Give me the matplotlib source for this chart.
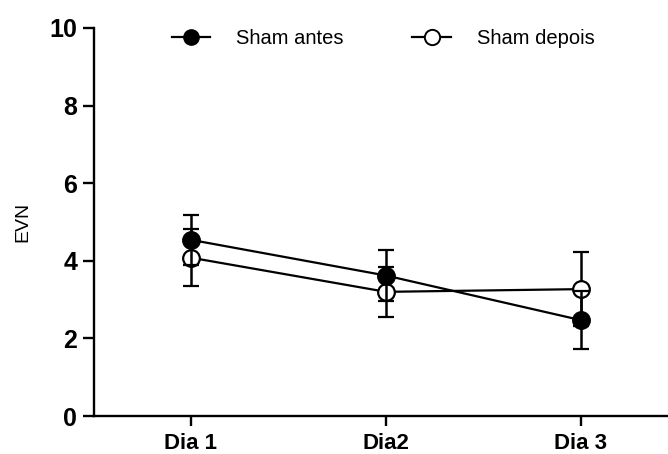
import matplotlib
matplotlib.use("Agg")
import matplotlib.pyplot as plt
from matplotlib.lines import Line2D

plt.rcParams['font.family'] = ['Liberation Sans', 'DejaVu Sans']

categories = ["Dia 1", "Dia2", "Dia 3"]
antes_mean = [4.54, 3.62, 2.47]
antes_err = [0.65, 0.66, 0.75]
depois_mean = [4.08, 3.20, 3.27]
depois_err = [0.73, 0.65, 0.95]
yticks = [0, 2, 4, 6, 8, 10]

W, H = 668, 454
fig = plt.figure(figsize=(W/100, H/100), dpi=100)
ax = fig.add_axes([94/W, (H-416)/H, (W-94)/W, (416-28)/H])

x = [1, 2, 3]
ax.errorbar(x, depois_mean, yerr=depois_err, color='black', lw=1.6,
            marker='o', ms=12, mfc='white', mec='black', mew=1.6,
            capsize=6, capthick=1.8, elinewidth=1.8, zorder=3,
            label='Sham depois')
ax.errorbar(x, antes_mean, yerr=antes_err, color='black', lw=1.6,
            marker='o', ms=12, mfc='black', mec='black', mew=1.6,
            capsize=6, capthick=1.8, elinewidth=1.8, zorder=4,
            label='Sham antes')

ax.set_xlim(1 - 97/195, 3 + 87/195)
ax.set_ylim(0, 10)
ax.set_yticks(yticks)
ax.set_xticks(x)
ax.set_xticklabels(categories, fontsize=16, fontweight='bold')
for t in ax.get_yticklabels():
    t.set_fontsize(18)
    t.set_fontweight('bold')
ax.tick_params(axis='y', direction='out', length=8, width=1.7, pad=4)
ax.tick_params(axis='x', direction='out', length=7, width=1.7, pad=5)
for s in ['top', 'right']:
    ax.spines[s].set_visible(False)
for s in ['left', 'bottom']:
    ax.spines[s].set_linewidth(1.7)
ax.set_ylabel("EVN", fontsize=14)
ax.yaxis.set_label_coords(-(94-31)/(W-94), 0.5)

handles = [
    Line2D([], [], color='black', lw=1.6, marker='o', ms=11, mfc='black', mec='black'),
    Line2D([], [], color='black', lw=1.6, marker='o', ms=11, mfc='white', mec='black', mew=1.4),
]
fig.legend(handles, ['Sham antes', 'Sham depois'], loc='upper left',
           bbox_to_anchor=(172/W, 1 - 29/H), ncol=2, frameon=False,
           borderpad=0, borderaxespad=0,
           fontsize=14.5, handlelength=1.9, handletextpad=1.3, columnspacing=3.4)

fig.savefig("out.png", dpi=100)
